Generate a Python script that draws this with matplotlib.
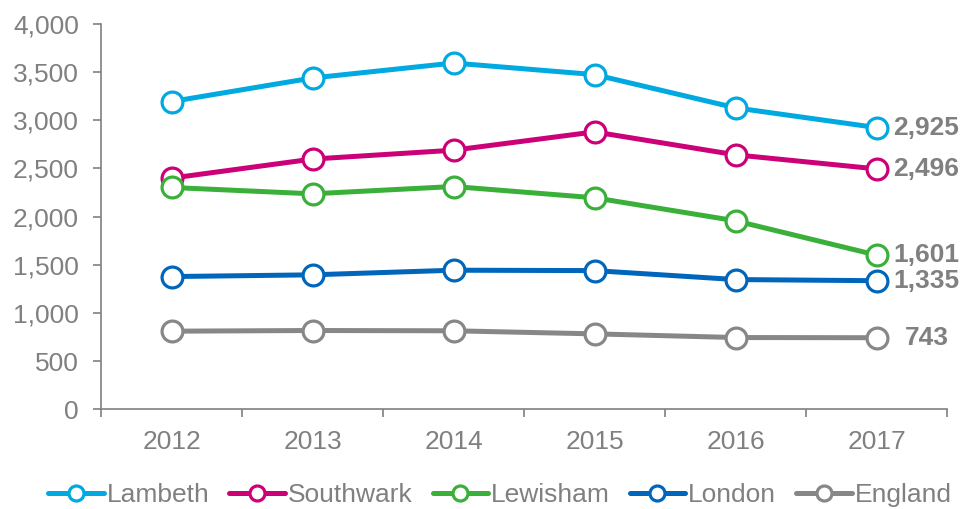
import matplotlib.pyplot as plt
import matplotlib.ticker as ticker

# ── DATA ────────────────────────────────────────────────────
years = ["2012", "2013", "2014", "2015", "2016", "2017"]
lambeth = [3195, 3440, 3595, 3475, 3130, 2925]
southwark = [2400, 2598, 2690, 2880, 2642, 2496]
lewisham = [2303, 2237, 2313, 2196, 1957, 1601]
london = [1378, 1396, 1444, 1440, 1347, 1335]
england = [811, 818, 815, 783, 745, 743]

series_names = ["Lambeth", "Southwark", "Lewisham", "London", "England"]
colours = ["#00A9E0", "#CC0077", "#3AB03A", "#0066BB", "#878787"]
GREY = "#808080"
# ────────────────────────────────────────────────────────────

plt.rcParams["font.family"] = ["Liberation Sans", "DejaVu Sans"]

fig = plt.figure(figsize=(9.63, 5.09), dpi=100)
ax = fig.add_axes([0.1049, 0.1959, 0.8785, 0.7569])

x = list(range(len(years)))
all_series = [lambeth, southwark, lewisham, london, england]

handles = []
for name, vals, col in zip(series_names, all_series, colours):
    h, = ax.plot(x, vals, color=col, linewidth=3.6, marker="o",
                 markersize=15, markerfacecolor="white",
                 markeredgecolor=col, markeredgewidth=2.3,
                 label=name, solid_capstyle="round")
    handles.append(h)
    # value label for last year
    ax.annotate(f"{vals[-1]:,}", xy=(x[-1], vals[-1]), xytext=(36, 0),
                textcoords="offset points", ha="center", va="center",
                fontsize=19, fontweight="bold", color=GREY,
                annotation_clip=False)

ax.set_ylim(0, 4000)
ax.set_xlim(-0.5, len(years) - 0.5)
ax.yaxis.set_major_locator(ticker.MultipleLocator(500))
ax.yaxis.set_major_formatter(ticker.FuncFormatter(lambda v, p: f"{int(v):,}"))

# ticks between categories, labels centred on categories
ax.set_xticks([i - 0.5 for i in range(len(years) + 1)])
ax.set_xticklabels([])
ax.set_xticks(x, minor=True)
ax.set_xticklabels(years, minor=True)
ax.tick_params(axis="x", which="major", length=6, width=1.2, color=GREY, direction="out")
ax.tick_params(axis="x", which="minor", length=0, pad=15, labelsize=19, labelcolor=GREY)
ax.tick_params(axis="y", length=6, width=1.2, color=GREY, pad=10,
               labelsize=19, labelcolor=GREY)

for s in ["top", "right"]:
    ax.spines[s].set_visible(False)
for s in ["left", "bottom"]:
    ax.spines[s].set_color(GREY)
    ax.spines[s].set_linewidth(1.2)

fig.legend(handles=handles, loc="center", bbox_to_anchor=(500 / 963, 14 / 509),
           ncol=5, frameon=False, fontsize=19, labelcolor=GREY,
           handlelength=2.1, handletextpad=0.12, columnspacing=0.75,
           markerscale=0.72)

fig.savefig("out.png", dpi=100)
